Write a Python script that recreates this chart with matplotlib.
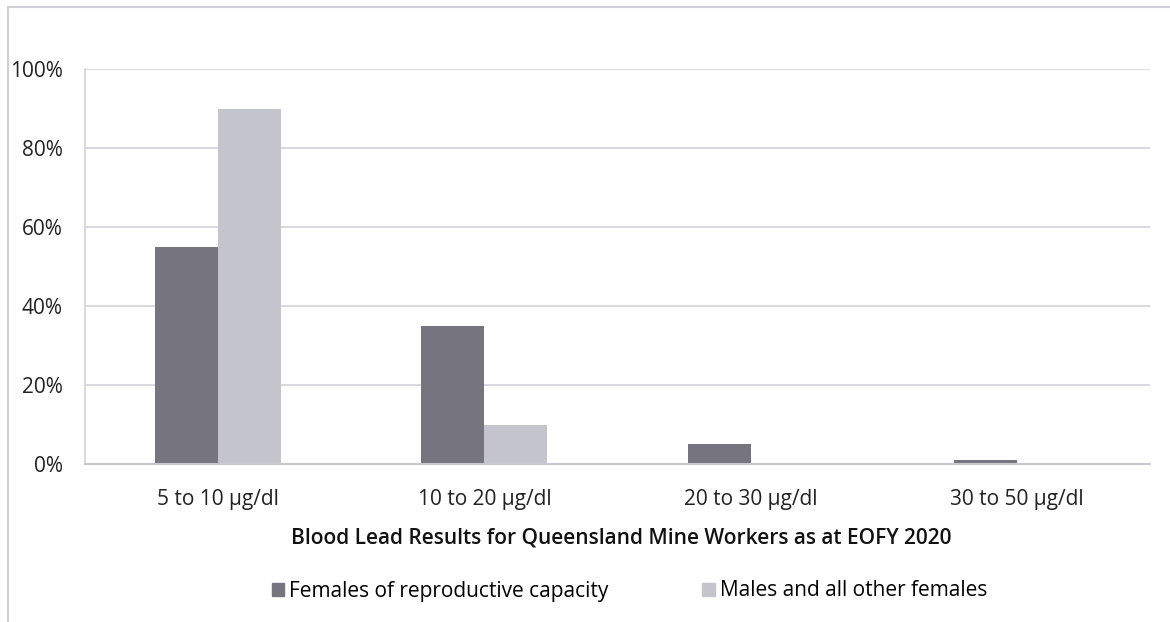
import matplotlib.pyplot as plt
import numpy as np
from matplotlib.patches import Rectangle, Patch
from matplotlib.ticker import PercentFormatter

plt.rcParams['font.family'] = ['Open Sans', 'DejaVu Sans']

categories = ['5 to 10 µg/dl', '10 to 20 µg/dl', '20 to 30 µg/dl', '30 to 50 µg/dl']
females_repro = [55, 35, 5, 1]
males_other = [90, 10, 0, 0]
series_names = ['Females of reproductive capacity', 'Males and all other females']
yticks = [0, 20, 40, 60, 80, 100]

dark = '#75747f'
light = '#c4c4cc'
grid = '#d2d2d9'
fs = 15

fig = plt.figure(figsize=(11.7, 6.22), dpi=100)
ax = fig.add_axes([0.0726, 0.254, 0.9104, 0.635])

# outer frame (top and left edges only visible)
fig.patches.append(Rectangle((8 / 1170, -0.1), 1.2, 1 - 7 / 622 + 0.1,
                             transform=fig.transFigure, fill=False,
                             edgecolor='#d0d0d6', lw=1.5))

x = np.arange(len(categories))
w = 0.237
ax.bar(x - w / 2, females_repro, w, color=dark, zorder=3)
ax.bar(x + w / 2, males_other, w, color=light, zorder=3)

ax.set_xlim(-0.5, len(categories) - 0.5)
ax.set_ylim(0, 100)
ax.set_yticks(yticks)
ax.yaxis.set_major_formatter(PercentFormatter(decimals=0))
ax.set_xticks(x)
ax.set_xticklabels(categories)
ax.grid(axis='y', color=grid, lw=1.2, zorder=0)
ax.tick_params(length=0, labelsize=fs, colors='#222222')
ax.tick_params(axis='x', pad=18)
ax.tick_params(axis='y', pad=16)
for s in ['top', 'right']:
    ax.spines[s].set_visible(False)
ax.spines['left'].set_color(grid)
ax.spines['left'].set_linewidth(1.2)
ax.spines['bottom'].set_color('#c8c8d0')
ax.spines['bottom'].set_linewidth(1.5)
ax.spines['bottom'].set_zorder(4)

fig.text(0.531, 1 - 538 / 622, 'Blood Lead Results for Queensland Mine Workers as at EOFY 2020',
         ha='center', va='center', fontsize=fs, fontweight='semibold', color='#111111')

handles = [Patch(color=dark), Patch(color=light)]
fig.legend(handles, series_names, loc='center', bbox_to_anchor=(0.538, 1 - 591 / 622),
           ncol=2, frameon=False, fontsize=fs, handlelength=0.6, handleheight=0.6,
           handletextpad=0.25, columnspacing=4.5)

fig.savefig('out.png', dpi=100)
